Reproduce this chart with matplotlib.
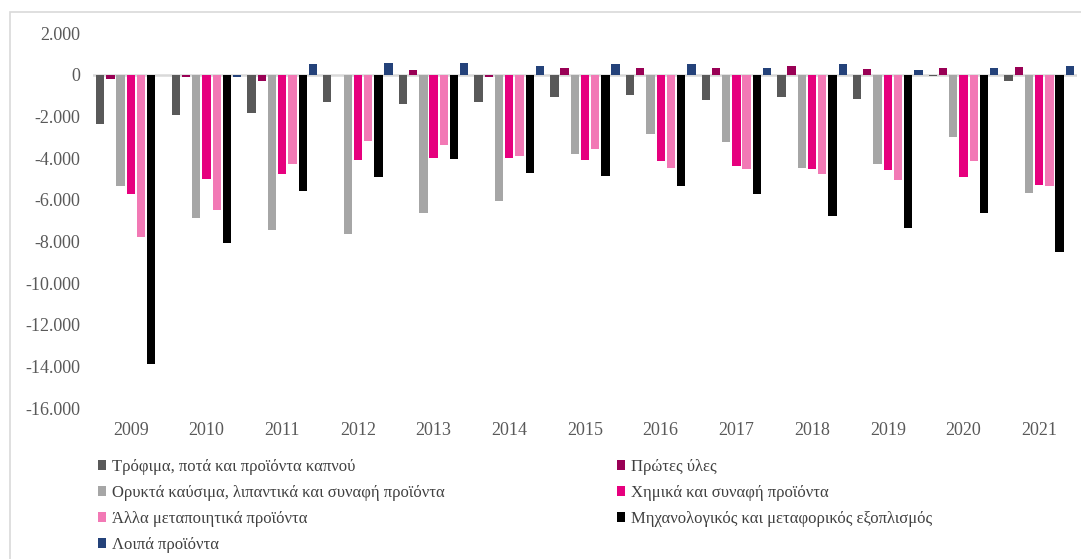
import numpy as np
import matplotlib.pyplot as plt
from matplotlib.patches import Rectangle
from matplotlib.ticker import FuncFormatter

years = ['2009', '2010', '2011', '2012', '2013', '2014', '2015',
         '2016', '2017', '2018', '2019', '2020', '2021']

food = [-2370, -1940, -1840, -1300, -1410, -1300, -1070, -980, -1220, -1070, -1170, -60, -290]
raw = [-210, -110, -300, 0, 220, -110, 350, 350, 320, 430, 270, 320, 380]
fuels = [-5310, -6860, -7420, -7650, -6640, -6050, -3810, -2850, -3230, -4480, -4270, -2980, -5680]
chem = [-5700, -5010, -4750, -4100, -3970, -3970, -4060, -4140, -4350, -4530, -4560, -4910, -5260]
manuf = [-7780, -6480, -4270, -3150, -3380, -3870, -3540, -4460, -4530, -4740, -5040, -4130, -5340]
mach = [-13890, -8050, -5580, -4910, -4020, -4720, -4830, -5310, -5700, -6770, -7340, -6640, -8500]
other = [0, -110, 510, 560, 560, 430, 510, 510, 320, 510, 260, 350, 430]

labels = ['Τρόφιμα, ποτά και προϊόντα καπνού',
          'Πρώτες ύλες',
          'Ορυκτά καύσιμα, λιπαντικά και συναφή προϊόντα',
          'Χημικά και συναφή προϊόντα',
          'Άλλα μεταποιητικά προϊόντα',
          'Μηχανολογικός και μεταφορικός εξοπλισμός',
          'Λοιπά προϊόντα']
colors = ['#595959', '#990055', '#a6a6a6', '#e6007e', '#f279b5', '#000000', '#24427a']
series = [food, raw, fuels, chem, manuf, mach, other]

plt.rcParams['font.family'] = ['Liberation Serif', 'DejaVu Serif']

fig = plt.figure(figsize=(10.81, 5.59), dpi=100)
ax = fig.add_axes([93 / 1081, 1 - 408.3 / 559, (1077 - 93) / 1081, 375 / 559])

x = np.arange(len(years))
step = 0.135
width = 0.11
handles = []
for i, (vals, c) in enumerate(zip(series, colors)):
    h = ax.bar(x + (i - 3) * step, vals, width=width, color=c, zorder=2)
    handles.append(h)

ax.axhline(0, color='#d9d9d9', lw=1.8, zorder=1)
ax.set_xlim(-0.5, len(years) - 0.5)
ax.set_ylim(-16000, 2000)
ax.set_yticks(np.arange(-16000, 2001, 2000))
ax.yaxis.set_major_formatter(FuncFormatter(lambda v, p: f'{int(v):,}'.replace(',', '.')))
ax.set_xticks(x)
ax.set_xticklabels(years)
ax.tick_params(axis='both', length=0, labelsize=13, colors='#595959')
ax.tick_params(axis='x', pad=10)
ax.tick_params(axis='y', pad=9)
for s in ax.spines.values():
    s.set_visible(False)

# outer chart frame (only top and left edges show)
fig.patches.append(Rectangle((10 / 1081, -0.1), 1.2, 1 - 12 / 559 + 0.1,
                             transform=fig.transFigure, fill=False,
                             edgecolor='#d9d9d9', lw=1.2))

order = [0, 2, 4, 6, 1, 3, 5]
fig.legend([handles[i] for i in order], [labels[i] for i in order],
           loc='upper left', bbox_to_anchor=(98 / 1081, 1 - 459 / 559),
           ncol=2, frameon=False, fontsize=12, labelcolor='#404040',
           handlelength=0.5, handleheight=0.5, handletextpad=0.35,
           labelspacing=0.6, columnspacing=10.3, borderpad=0, borderaxespad=0)

fig.savefig('out.png', dpi=100)
